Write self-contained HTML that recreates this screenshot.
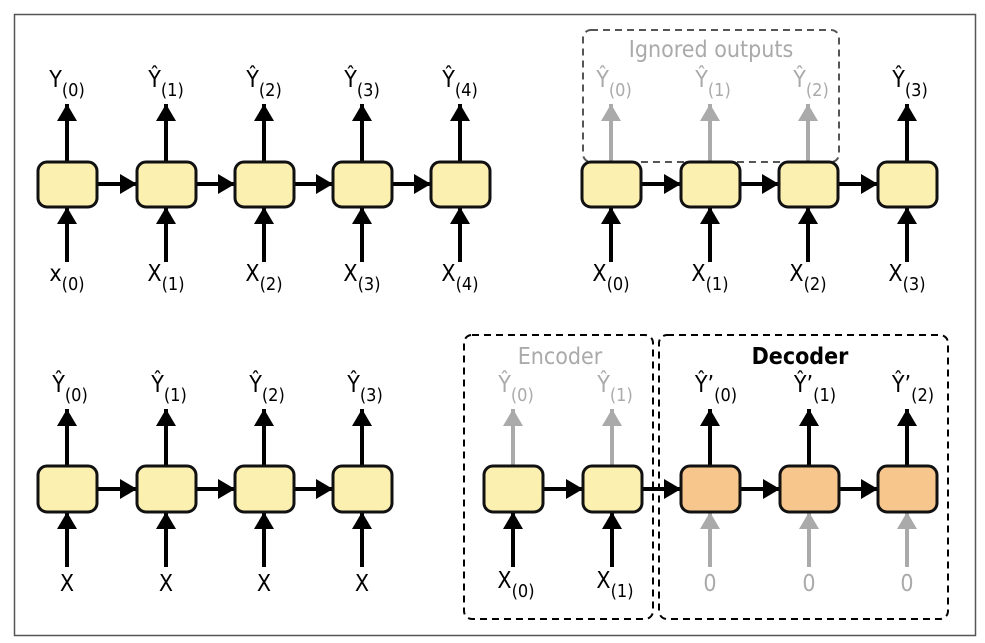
<!DOCTYPE html>
<html><head><meta charset="utf-8"><style>
html,body{margin:0;padding:0;background:#fff;}
svg{display:block;}
text{font-family:"DejaVu Sans Condensed","Liberation Sans",sans-serif;font-size:23px;}
.s{font-size:18px;}
.g{fill:#aaa;}
.h{font-size:23px;}
</style></head><body>
<svg width="985" height="643" viewBox="0 0 985 643" xmlns="http://www.w3.org/2000/svg">
<defs>
<marker id="a" markerUnits="userSpaceOnUse" markerWidth="22" markerHeight="22" refX="17" refY="10" orient="auto"><path d="M0,0 L17,10 L0,20 Z" fill="#000"/></marker>
<marker id="ag" markerUnits="userSpaceOnUse" markerWidth="22" markerHeight="22" refX="17" refY="10" orient="auto"><path d="M0,0 L17,10 L0,20 Z" fill="#aaa"/></marker>
</defs>
<rect x="14.5" y="14.5" width="961" height="621" fill="none" stroke="#555" stroke-width="1.5"/>

<rect x="583" y="30" width="256" height="132" rx="8" fill="none" stroke="#555" stroke-width="2" stroke-dasharray="7,5"/>
<text x="711" y="57" text-anchor="middle" class="g h">Ignored outputs</text>
<rect x="464" y="335" width="189" height="284" rx="8" fill="none" stroke="#000" stroke-width="2" stroke-dasharray="7,5"/>
<rect x="659" y="335" width="289" height="284" rx="8" fill="none" stroke="#000" stroke-width="2" stroke-dasharray="7,5"/>
<text x="560" y="364" text-anchor="middle" class="g h">Encoder</text>
<text x="800" y="364" text-anchor="middle" class="h" font-weight="bold">Decoder</text>

<g stroke="#000" stroke-width="4" fill="none">
<line x1="67" y1="162" x2="67" y2="104" marker-end="url(#a)"/>
<line x1="166" y1="162" x2="166" y2="104" marker-end="url(#a)"/>
<line x1="264" y1="162" x2="264" y2="104" marker-end="url(#a)"/>
<line x1="362" y1="162" x2="362" y2="104" marker-end="url(#a)"/>
<line x1="460" y1="162" x2="460" y2="104" marker-end="url(#a)"/>
<line x1="67" y1="262" x2="67" y2="207" marker-end="url(#a)"/>
<line x1="166" y1="262" x2="166" y2="207" marker-end="url(#a)"/>
<line x1="264" y1="262" x2="264" y2="207" marker-end="url(#a)"/>
<line x1="362" y1="262" x2="362" y2="207" marker-end="url(#a)"/>
<line x1="460" y1="262" x2="460" y2="207" marker-end="url(#a)"/>
<line x1="97" y1="184" x2="137" y2="184" marker-end="url(#a)"/>
<line x1="196" y1="184" x2="235" y2="184" marker-end="url(#a)"/>
<line x1="294" y1="184" x2="333" y2="184" marker-end="url(#a)"/>
<line x1="392" y1="184" x2="431" y2="184" marker-end="url(#a)"/>
<line x1="907" y1="162" x2="907" y2="104" marker-end="url(#a)"/>
<line x1="611" y1="262" x2="611" y2="207" marker-end="url(#a)"/>
<line x1="710" y1="262" x2="710" y2="207" marker-end="url(#a)"/>
<line x1="808" y1="262" x2="808" y2="207" marker-end="url(#a)"/>
<line x1="907" y1="262" x2="907" y2="207" marker-end="url(#a)"/>
<line x1="641" y1="184" x2="681" y2="184" marker-end="url(#a)"/>
<line x1="740" y1="184" x2="779" y2="184" marker-end="url(#a)"/>
<line x1="838" y1="184" x2="878" y2="184" marker-end="url(#a)"/>
<line x1="67" y1="466" x2="67" y2="409" marker-end="url(#a)"/>
<line x1="166" y1="466" x2="166" y2="409" marker-end="url(#a)"/>
<line x1="264" y1="466" x2="264" y2="409" marker-end="url(#a)"/>
<line x1="362" y1="466" x2="362" y2="409" marker-end="url(#a)"/>
<line x1="67" y1="567" x2="67" y2="512" marker-end="url(#a)"/>
<line x1="166" y1="567" x2="166" y2="512" marker-end="url(#a)"/>
<line x1="264" y1="567" x2="264" y2="512" marker-end="url(#a)"/>
<line x1="362" y1="567" x2="362" y2="512" marker-end="url(#a)"/>
<line x1="97" y1="489" x2="137" y2="489" marker-end="url(#a)"/>
<line x1="196" y1="489" x2="235" y2="489" marker-end="url(#a)"/>
<line x1="294" y1="489" x2="333" y2="489" marker-end="url(#a)"/>
<line x1="710" y1="466" x2="710" y2="409" marker-end="url(#a)"/>
<line x1="809" y1="466" x2="809" y2="409" marker-end="url(#a)"/>
<line x1="907" y1="466" x2="907" y2="409" marker-end="url(#a)"/>
<line x1="513" y1="567" x2="513" y2="512" marker-end="url(#a)"/>
<line x1="612" y1="567" x2="612" y2="512" marker-end="url(#a)"/>
<line x1="543" y1="489" x2="583" y2="489" marker-end="url(#a)"/>
<line x1="642" y1="489" x2="681" y2="489" marker-end="url(#a)"/>
<line x1="740" y1="489" x2="780" y2="489" marker-end="url(#a)"/>
<line x1="839" y1="489" x2="878" y2="489" marker-end="url(#a)"/>
</g>
<g stroke="#aaa" stroke-width="4" fill="none">
<line x1="611" y1="162" x2="611" y2="104" marker-end="url(#ag)"/>
<line x1="710" y1="162" x2="710" y2="104" marker-end="url(#ag)"/>
<line x1="808" y1="162" x2="808" y2="104" marker-end="url(#ag)"/>
<line x1="513" y1="466" x2="513" y2="409" marker-end="url(#ag)"/>
<line x1="612" y1="466" x2="612" y2="409" marker-end="url(#ag)"/>
<line x1="710" y1="567" x2="710" y2="512" marker-end="url(#ag)"/>
<line x1="809" y1="567" x2="809" y2="512" marker-end="url(#ag)"/>
<line x1="907" y1="567" x2="907" y2="512" marker-end="url(#ag)"/>
</g>

<g stroke="#111" stroke-width="3">
<g fill="#fcf0b0">
<rect x="38" y="162" width="59" height="45" rx="9"/>
<rect x="137" y="162" width="59" height="45" rx="9"/>
<rect x="235" y="162" width="59" height="45" rx="9"/>
<rect x="333" y="162" width="59" height="45" rx="9"/>
<rect x="431" y="162" width="59" height="45" rx="9"/>
<rect x="582" y="162" width="59" height="45" rx="9"/>
<rect x="681" y="162" width="59" height="45" rx="9"/>
<rect x="779" y="162" width="59" height="45" rx="9"/>
<rect x="878" y="162" width="59" height="45" rx="9"/>
<rect x="38" y="466" width="59" height="46" rx="9"/>
<rect x="137" y="466" width="59" height="46" rx="9"/>
<rect x="235" y="466" width="59" height="46" rx="9"/>
<rect x="333" y="466" width="59" height="46" rx="9"/>
<rect x="484" y="466" width="59" height="46" rx="9"/>
<rect x="583" y="466" width="59" height="46" rx="9"/>
</g>
<g fill="#f7c68c">
<rect x="681" y="466" width="59" height="46" rx="9"/>
<rect x="780" y="466" width="59" height="46" rx="9"/>
<rect x="878" y="466" width="59" height="46" rx="9"/>
</g>
</g>

<g text-anchor="middle">
<text x="67" y="87">Y<tspan class="s" dy="9">(0)</tspan></text>
<text x="166" y="87">Ŷ<tspan class="s" dy="9">(1)</tspan></text>
<text x="264" y="87">Ŷ<tspan class="s" dy="9">(2)</tspan></text>
<text x="362" y="87">Ŷ<tspan class="s" dy="9">(3)</tspan></text>
<text x="460" y="87">Ŷ<tspan class="s" dy="9">(4)</tspan></text>
<text x="67" y="281">x<tspan class="s" dy="9">(0)</tspan></text>
<text x="166" y="281">X<tspan class="s" dy="9">(1)</tspan></text>
<text x="264" y="281">X<tspan class="s" dy="9">(2)</tspan></text>
<text x="362" y="281">X<tspan class="s" dy="9">(3)</tspan></text>
<text x="460" y="281">X<tspan class="s" dy="9">(4)</tspan></text>
<text x="614" y="87" class="g">Ŷ<tspan class="s" dy="9">(0)</tspan></text>
<text x="713" y="87" class="g">Ŷ<tspan class="s" dy="9">(1)</tspan></text>
<text x="811" y="87" class="g">Ŷ<tspan class="s" dy="9">(2)</tspan></text>
<text x="910" y="87">Ŷ<tspan class="s" dy="9">(3)</tspan></text>
<text x="611" y="281">X<tspan class="s" dy="9">(0)</tspan></text>
<text x="710" y="281">X<tspan class="s" dy="9">(1)</tspan></text>
<text x="808" y="281">X<tspan class="s" dy="9">(2)</tspan></text>
<text x="907" y="281">X<tspan class="s" dy="9">(3)</tspan></text>
<text x="70" y="392">Ŷ<tspan class="s" dy="9">(0)</tspan></text>
<text x="169" y="392">Ŷ<tspan class="s" dy="9">(1)</tspan></text>
<text x="267" y="392">Ŷ<tspan class="s" dy="9">(2)</tspan></text>
<text x="365" y="392">Ŷ<tspan class="s" dy="9">(3)</tspan></text>
<text x="67" y="591">X</text>
<text x="166" y="591">X</text>
<text x="264" y="591">X</text>
<text x="362" y="591">X</text>
<text x="516" y="392" class="g">Ŷ<tspan class="s" dy="9">(0)</tspan></text>
<text x="615" y="392" class="g">Ŷ<tspan class="s" dy="9">(1)</tspan></text>
<text x="716" y="392">Ŷ’<tspan class="s" dy="9">(0)</tspan></text>
<text x="815" y="392">Ŷ’<tspan class="s" dy="9">(1)</tspan></text>
<text x="913" y="392">Ŷ’<tspan class="s" dy="9">(2)</tspan></text>
<text x="516" y="588">X<tspan class="s" dy="9">(0)</tspan></text>
<text x="615" y="588">X<tspan class="s" dy="9">(1)</tspan></text>
<text x="710" y="591" class="g">0</text>
<text x="809" y="591" class="g">0</text>
<text x="907" y="591" class="g">0</text>
</g>
</svg>
</body></html>
